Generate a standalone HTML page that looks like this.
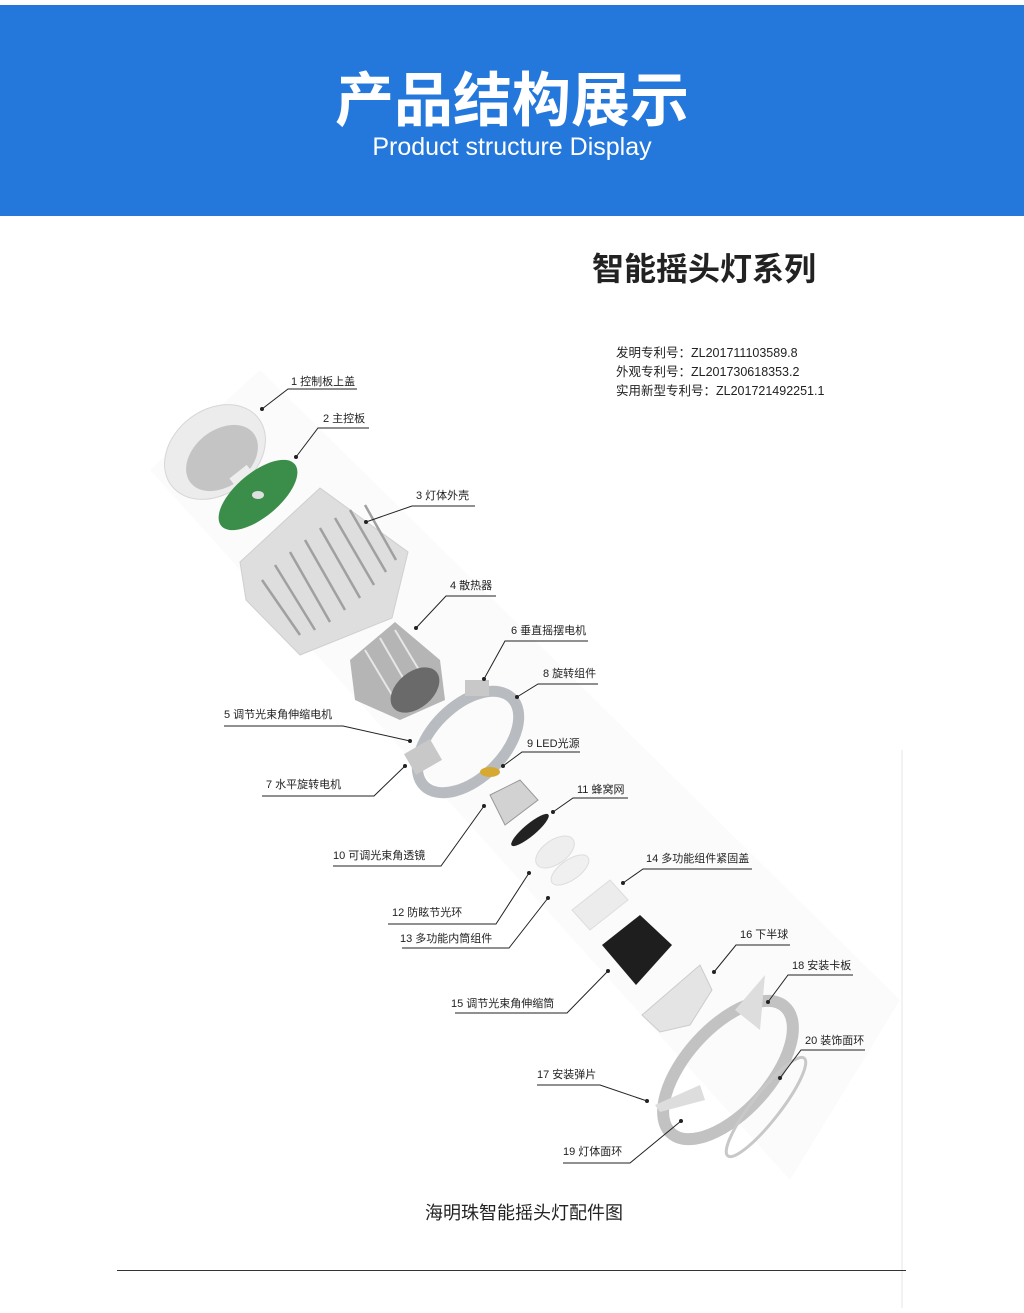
<!DOCTYPE html>
<html><head><meta charset="utf-8">
<style>
html,body{margin:0;padding:0;background:#fff;}
body{width:1024px;height:1308px;position:relative;overflow:hidden;font-family:"Liberation Sans","Noto Sans CJK SC",sans-serif;}
svg text{font-family:"Liberation Sans","Noto Sans CJK SC",sans-serif;}
</style></head><body>
<svg width="1024" height="1308" viewBox="0 0 1024 1308" xmlns="http://www.w3.org/2000/svg">
<rect x="0" y="5" width="1024" height="211" fill="#2478db"/>
<text x="512" y="121" text-anchor="middle" fill="#fff" font-size="59" font-weight="bold" font-family="Noto Sans CJK SC, sans-serif">产品结构展示</text>
<text x="512" y="155" text-anchor="middle" fill="#fff" font-size="25">Product structure Display</text>
<text x="592" y="280" fill="#222" font-size="32" font-weight="bold" font-family="Noto Sans CJK SC, sans-serif">智能摇头灯系列</text>
<g font-size="12.5" fill="#222">
<text x="616" y="357">发明专利号：ZL201711103589.8</text>
<text x="616" y="376">外观专利号：ZL201730618353.2</text>
<text x="616" y="395">实用新型专利号：ZL201721492251.1</text>
</g>
<path d="M150 470 L260 370 L900 1000 L790 1180 Z" fill="#fbfbfb"/>
<!-- parts -->
<ellipse cx="215" cy="452" rx="55" ry="42" transform="rotate(-38 215 452)" fill="#ececec" stroke="#d6d6d6"/>
<ellipse cx="222" cy="458" rx="40" ry="28" transform="rotate(-38 222 458)" fill="#c4c4c4"/>
<rect x="232" y="470" width="22" height="16" fill="#eee" transform="rotate(-38 243 478)"/>
<ellipse cx="258" cy="495" rx="48" ry="22" transform="rotate(-40 258 495)" fill="#3b8e4a"/>
<ellipse cx="258" cy="495" rx="6" ry="4" fill="#e0e0e0"/>
<path d="M240 562 L320 488 L408 552 L392 618 L300 655 L246 600 Z" fill="#dedede" stroke="#cfcfcf"/>
<g stroke="#a0a0a0" stroke-width="2.5">
<line x1="262" y1="580" x2="300" y2="635"/><line x1="275" y1="565" x2="315" y2="630"/>
<line x1="290" y1="552" x2="330" y2="622"/><line x1="305" y1="540" x2="345" y2="610"/>
<line x1="320" y1="528" x2="360" y2="598"/><line x1="335" y1="518" x2="374" y2="585"/>
<line x1="350" y1="510" x2="386" y2="572"/><line x1="365" y1="505" x2="396" y2="560"/>
</g>
<path d="M350 660 L395 622 L440 660 L445 700 L400 720 L355 700 Z" fill="#b5b5b5"/>
<g stroke="#e6e6e6" stroke-width="2"><line x1="365" y1="650" x2="395" y2="700"/><line x1="380" y1="638" x2="410" y2="690"/><line x1="395" y1="630" x2="425" y2="680"/></g>
<ellipse cx="415" cy="690" rx="28" ry="18" transform="rotate(-40 415 690)" fill="#6a6a6a"/>
<ellipse cx="468" cy="742" rx="62" ry="36" transform="rotate(-45 468 742)" fill="none" stroke="#b8bcc0" stroke-width="11"/>
<rect x="408" y="745" width="30" height="24" fill="#c8c8c8" transform="rotate(-30 423 757)"/>
<rect x="465" y="680" width="24" height="16" fill="#c8c8c8"/>
<ellipse cx="490" cy="772" rx="10" ry="5" fill="#d6a933"/>
<path d="M490 795 L520 780 L538 800 L505 825 Z" fill="#d2d2d2" stroke="#999"/>
<ellipse cx="530" cy="830" rx="24" ry="6" transform="rotate(-40 530 830)" fill="#222"/>
<ellipse cx="555" cy="852" rx="22" ry="12" transform="rotate(-35 555 852)" fill="#eee" stroke="#ddd"/>
<ellipse cx="570" cy="870" rx="22" ry="10" transform="rotate(-35 570 870)" fill="#f0f0f0" stroke="#ddd"/>
<path d="M572 910 L610 880 L628 900 L590 930 Z" fill="#ececec" stroke="#ddd"/>
<path d="M602 945 L640 915 L672 945 L636 985 Z" fill="#1e1e1e"/>
<path d="M642 1015 L700 965 L712 990 L690 1025 L660 1032 Z" fill="#e4e4e4" stroke="#ccc"/>
<ellipse cx="728" cy="1070" rx="85" ry="42" transform="rotate(-48 728 1070)" fill="none" stroke="#c2c2c2" stroke-width="12"/>
<path d="M735 1010 L765 975 L760 1030 Z" fill="#ddd"/>
<path d="M655 1105 L700 1085 L705 1100 L660 1112 Z" fill="#ddd"/>
<ellipse cx="766" cy="1107" rx="62" ry="14" transform="rotate(-52 766 1107)" fill="none" stroke="#c8c8c8" stroke-width="3"/>
<!-- labels -->
<g font-size="11" fill="#222">
<text x="291" y="385">1 控制板上盖</text>
<text x="323" y="422">2 主控板</text>
<text x="416" y="499">3 灯体外壳</text>
<text x="450" y="589">4 散热器</text>
<text x="511" y="634">6 垂直摇摆电机</text>
<text x="543" y="677">8 旋转组件</text>
<text x="224" y="718">5 调节光束角伸缩电机</text>
<text x="266" y="788">7 水平旋转电机</text>
<text x="527" y="747">9 LED光源</text>
<text x="577" y="793">11 蜂窝网</text>
<text x="333" y="859">10 可调光束角透镜</text>
<text x="646" y="862">14 多功能组件紧固盖</text>
<text x="392" y="916">12 防眩节光环</text>
<text x="400" y="942">13 多功能内筒组件</text>
<text x="740" y="938">16 下半球</text>
<text x="792" y="969">18 安装卡板</text>
<text x="451" y="1007">15 调节光束角伸缩筒</text>
<text x="805" y="1044">20 装饰面环</text>
<text x="537" y="1078">17 安装弹片</text>
<text x="563" y="1155">19 灯体面环</text>
</g>
<g stroke="#222" stroke-width="1" fill="none">
<polyline points="357,389 288,389 262,409"/>
<polyline points="369,428 318,428 296,457"/>
<polyline points="475,506 412,506 366,522"/>
<polyline points="496,596 446,596 416,628"/>
<polyline points="588,641 505,641 484,679"/>
<polyline points="598,684 538,684 517,697"/>
<polyline points="224,726 343,726 410,741"/>
<polyline points="262,796 374,796 405,766"/>
<polyline points="580,752 522,752 503,766"/>
<polyline points="628,798 573,798 553,812"/>
<polyline points="333,866 441,866 484,806"/>
<polyline points="752,869 643,869 623,883"/>
<polyline points="388,924 496,924 529,873"/>
<polyline points="402,948 509,948 548,898"/>
<polyline points="790,945 736,945 714,972"/>
<polyline points="853,975 788,975 768,1002"/>
<polyline points="455,1013 567,1013 608,971"/>
<polyline points="865,1050 801,1050 780,1078"/>
<polyline points="537,1085 600,1085 647,1101"/>
<polyline points="563,1163 630,1163 681,1121"/>
</g>
<g fill="#222">
<circle cx="262" cy="409" r="2"/><circle cx="296" cy="457" r="2"/><circle cx="366" cy="522" r="2"/>
<circle cx="416" cy="628" r="2"/><circle cx="484" cy="679" r="2"/><circle cx="517" cy="697" r="2"/>
<circle cx="410" cy="741" r="2"/><circle cx="405" cy="766" r="2"/><circle cx="503" cy="766" r="2"/>
<circle cx="553" cy="812" r="2"/><circle cx="484" cy="806" r="2"/><circle cx="623" cy="883" r="2"/>
<circle cx="529" cy="873" r="2"/><circle cx="548" cy="898" r="2"/><circle cx="714" cy="972" r="2"/>
<circle cx="768" cy="1002" r="2"/><circle cx="608" cy="971" r="2"/><circle cx="780" cy="1078" r="2"/>
<circle cx="647" cy="1101" r="2"/><circle cx="681" cy="1121" r="2"/>
</g>
<text x="524" y="1219" text-anchor="middle" font-size="18" fill="#222">海明珠智能摇头灯配件图</text>
<line x1="902" y1="750" x2="902" y2="1308" stroke="#e4e4e4" stroke-width="1"/>
<line x1="117" y1="1270.5" x2="906" y2="1270.5" stroke="#333" stroke-width="1"/>
</svg>
</body></html>
